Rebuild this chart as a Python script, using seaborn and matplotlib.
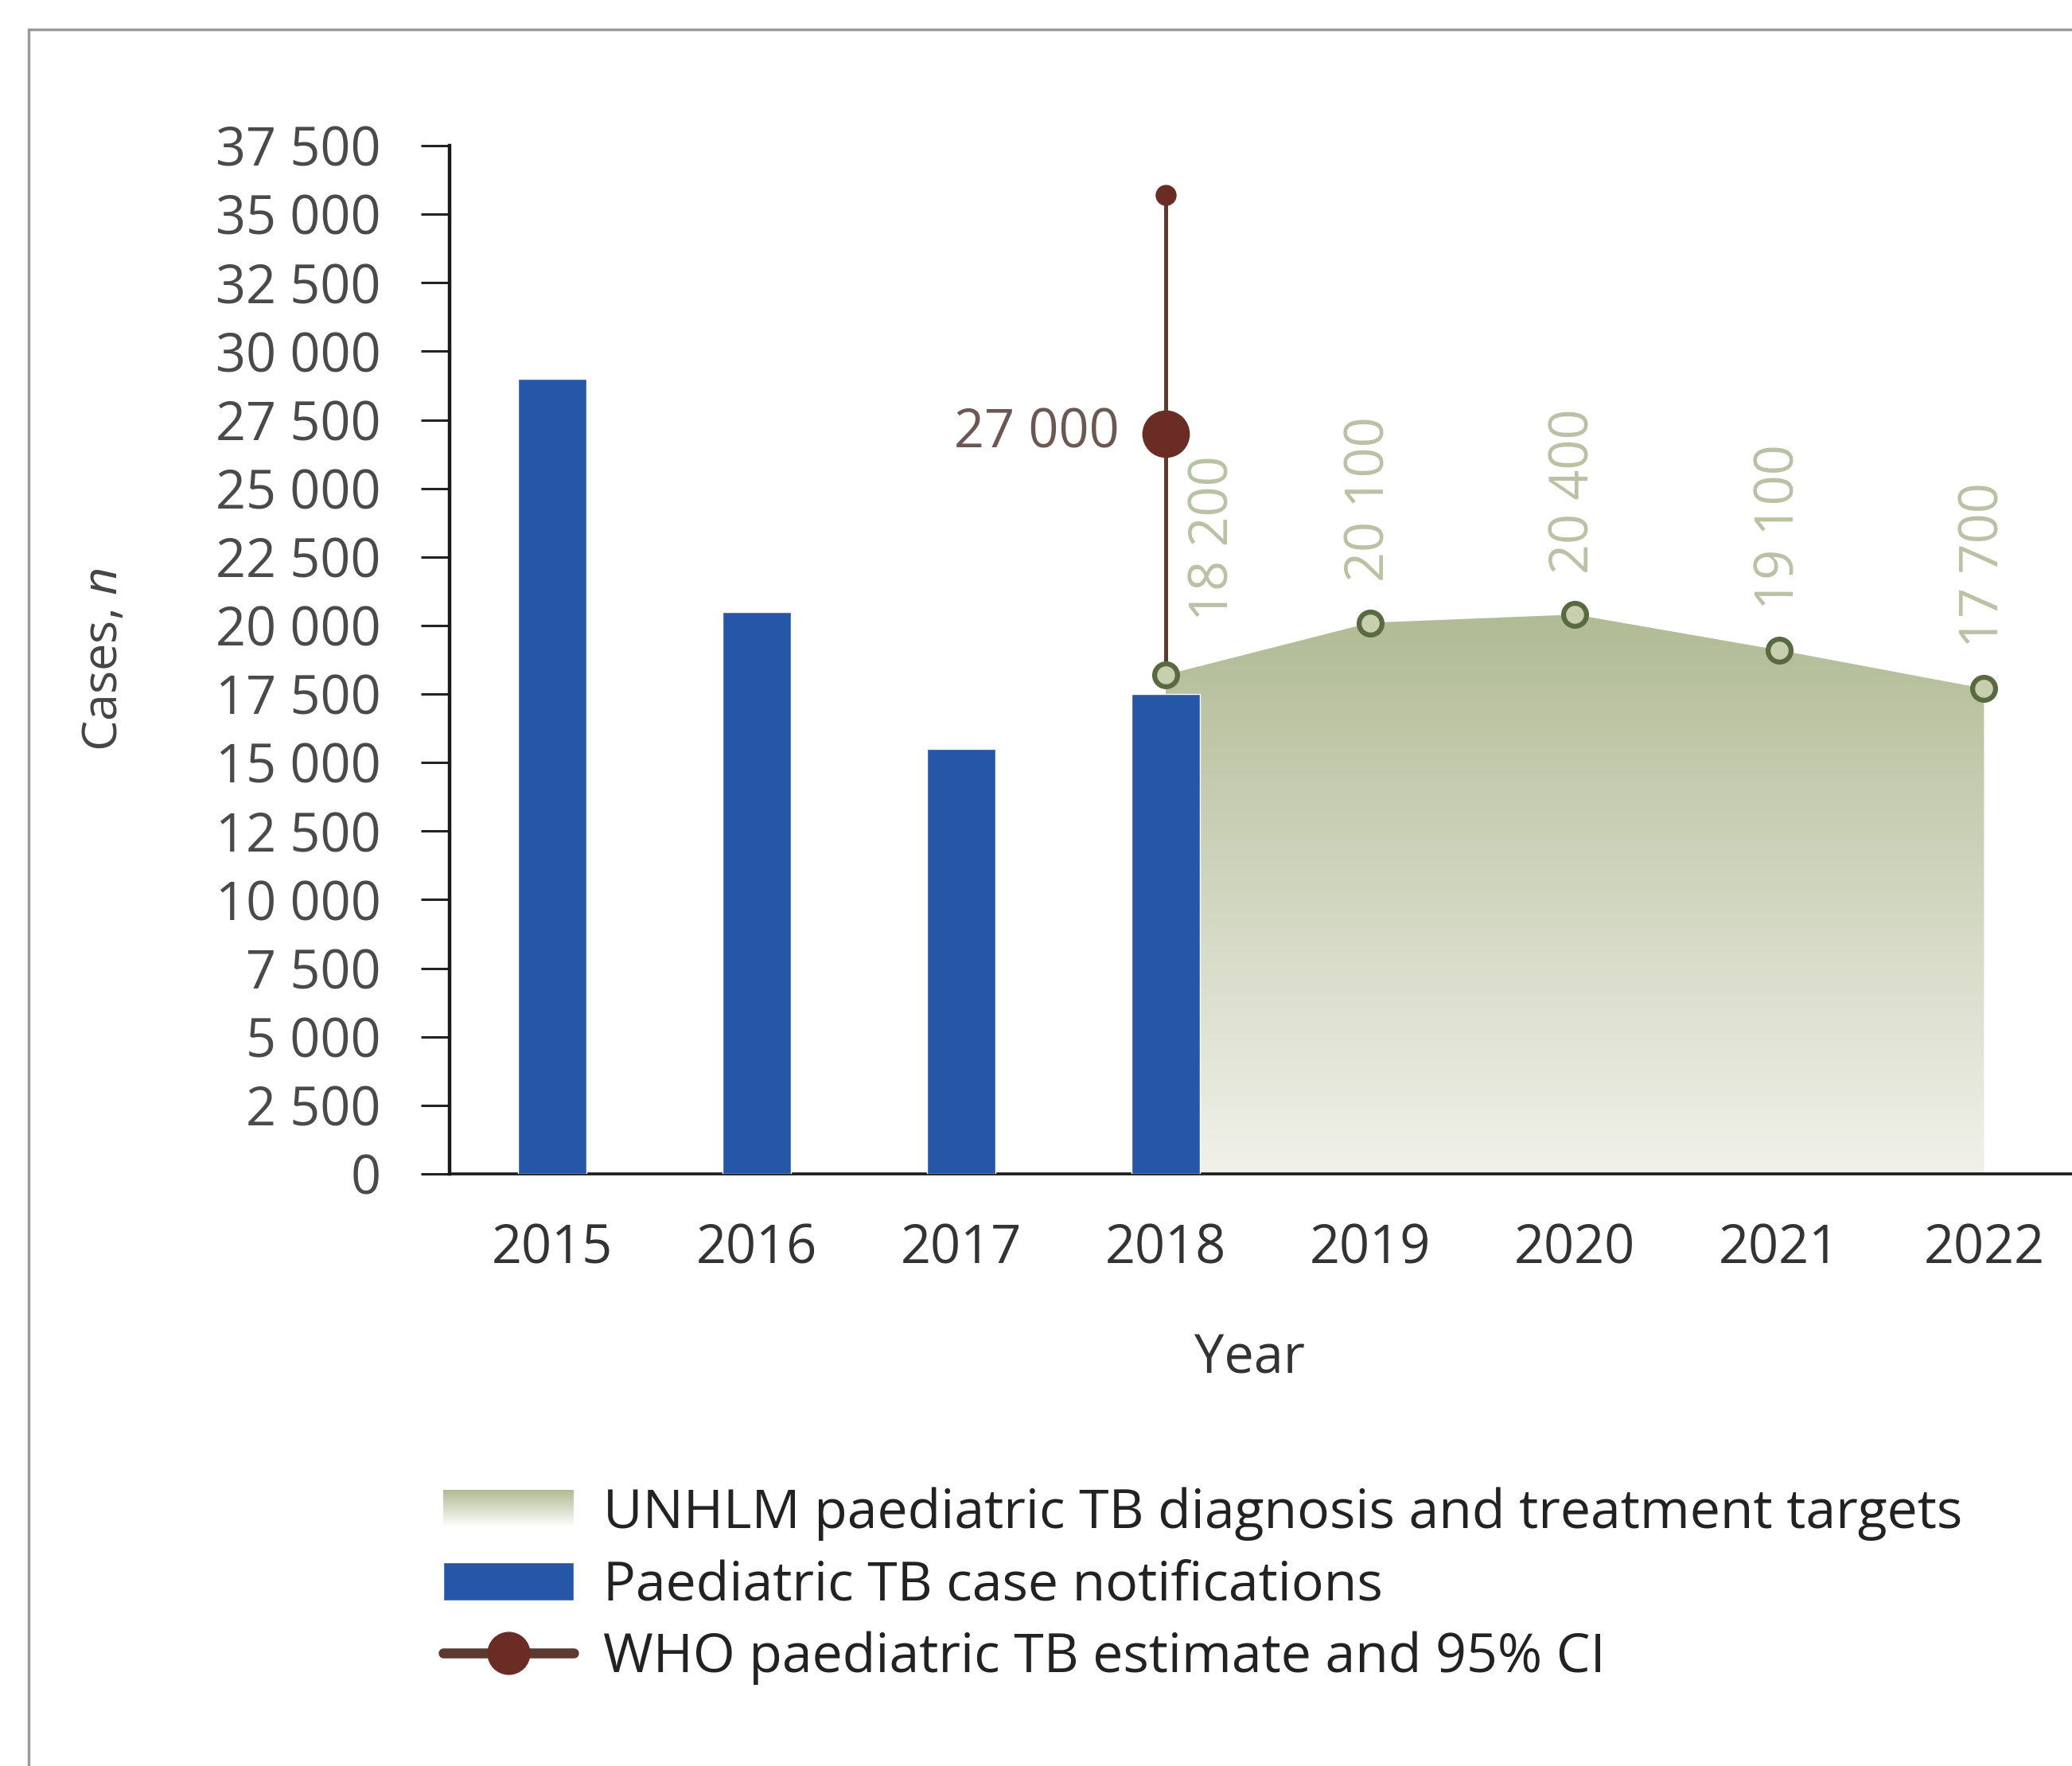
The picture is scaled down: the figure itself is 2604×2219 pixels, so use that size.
import numpy as np
import matplotlib
matplotlib.use("Agg")
import matplotlib.pyplot as plt
import seaborn as sns
from matplotlib.patches import Rectangle, Patch
from matplotlib.lines import Line2D
from matplotlib.legend_handler import HandlerBase
from matplotlib.colors import LinearSegmentedColormap, to_rgb

# data
years = [2015, 2016, 2017, 2018, 2019, 2020, 2021, 2022]
notif_years = [2015, 2016, 2017, 2018]
notifications = [29000, 20500, 15500, 17500]
target_years = [2018, 2019, 2020, 2021, 2022]
targets = [18200, 20100, 20400, 19100, 17700]
target_labels = ["18 200", "20 100", "20 400", "19 100", "17 700"]
who_year = 2018
who_est = 27000
who_lo = 18200
who_hi = 35700
yticks = list(range(0, 37501, 2500))

BLUE = "#2556a8"
BROWN = "#6b2c25"
BROWN_LINE = "#5c3a30"
GREEN_TOP = "#b1bb95"
GREEN_BOT = "#f1f1ea"
LABEL_GREEN = "#b9c2a3"

sns.set_style("white")
plt.rcParams["font.family"] = ["Open Sans", "DejaVu Sans"]
plt.rcParams["mathtext.fontset"] = "custom"
plt.rcParams["mathtext.it"] = "Open Sans:italic"
plt.rcParams["mathtext.rm"] = "Open Sans"

fig = plt.figure(figsize=(26.04, 22.19), dpi=100)
ax = fig.add_axes([0.217, 0.3353, 0.783, 0.5822])

# gradient fill for the targets
poly = ax.fill_between(target_years, targets, 0, color="none", lw=0)
cmap = LinearSegmentedColormap.from_list("tgt", [GREEN_BOT, GREEN_TOP])
grad = np.linspace(0, 1, 256).reshape(-1, 1)
im = ax.imshow(grad, extent=[min(target_years), max(target_years), 0, max(targets)],
               origin="lower", aspect="auto", cmap=cmap, zorder=1)
im.set_clip_path(poly.get_paths()[0], transform=ax.transData)

# notifications bars
sns.barplot(x=notif_years, y=notifications, native_scale=True, width=0.335,
            color=BLUE, saturation=1, errorbar=None, ax=ax, zorder=3)

# WHO estimate with CI
ax.plot([who_year, who_year], [who_lo, who_hi], color=BROWN_LINE, lw=3.6, zorder=4)
ax.plot([who_year], [who_hi], "o", color=BROWN, ms=18, zorder=5)
ax.plot([who_year], [who_est], "o", color=BROWN, ms=42, zorder=5)
ax.annotate("27 000", (who_year, who_est), xytext=(-42, 0), textcoords="offset points",
            ha="right", va="center", fontsize=48, color="#6b5852")

# target markers and labels
sns.scatterplot(x=target_years, y=targets, s=430, color="#c8cfae", edgecolor="#5a6a40",
                linewidth=4.5, ax=ax, zorder=6)
for i, (yr, val, lab) in enumerate(zip(target_years, targets, target_labels)):
    dx, dy = (44, 49) if i == 0 else (0, 37)
    ax.annotate(lab, (yr, val), xytext=(dx, dy), textcoords="offset points",
                rotation=90, ha="center", va="bottom", fontsize=48, color=LABEL_GREEN)

ax.set_xlim(2014.5, 2022.43)
ax.set_ylim(0, 37500)
ax.set_xticks(years)
ax.set_xticklabels([str(y) for y in years], fontsize=48, color="#333333")
ax.set_yticks(yticks)
ax.set_yticklabels([f"{v:,}".replace(",", " ") for v in yticks], fontsize=48, color="#4a4a4a")
ax.tick_params(axis="x", length=0, pad=44)
ax.tick_params(axis="y", length=26, width=2.2, color="#222222", pad=36, left=True)

for s in ["top", "right"]:
    ax.spines[s].set_visible(False)
ax.spines["left"].set_color("#1a1a1a")
ax.spines["left"].set_linewidth(3.2)
ax.spines["bottom"].set_color("#1a1a1a")
ax.spines["bottom"].set_linewidth(2.6)

ax.set_xlabel("Year", fontsize=48, color="#333333")
ax.xaxis.set_label_coords(0.493, -0.154)
ax.set_ylabel("Cases, $n$", fontsize=44, color="#444444")
ax.yaxis.set_label_coords(-0.198, 0.5)


class GradientHandler(HandlerBase):
    def create_artists(self, legend, orig_handle, xdescent, ydescent, width, height, fontsize, trans):
        n = 24
        c0 = np.array(to_rgb("#ffffff"))
        c1 = np.array(to_rgb(GREEN_TOP))
        arts = []
        for k in range(n):
            f = k / (n - 1)
            col = c0 + (c1 - c0) * f
            r = Rectangle((-xdescent, -ydescent + height * k / n), width, height / n + 0.5,
                          facecolor=col, edgecolor="none", transform=trans)
            arts.append(r)
        return arts


grad_handle = Patch(facecolor=GREEN_TOP)
handles = [grad_handle,
           Patch(facecolor=BLUE),
           Line2D([], [], color=BROWN_LINE, lw=9, marker="o", ms=38, markerfacecolor=BROWN,
                  markeredgecolor=BROWN)]
labels = ["UNHLM paediatric TB diagnosis and treatment targets",
          "Paediatric TB case notifications",
          "WHO paediatric TB estimate and 95% CI"]
fig.legend(handles, labels, loc="upper left", bbox_to_anchor=(0.214, 0.158),
           frameon=False, fontsize=49, handlelength=2.4, handleheight=0.7,
           handletextpad=0.55, labelspacing=0.34, borderaxespad=0, borderpad=0,
           handler_map={grad_handle: GradientHandler()}, labelcolor="#222222")

# outer frame
fig.patches.append(Rectangle((0.014, -0.05), 1.2, 0.9835 + 0.05, transform=fig.transFigure,
                             fill=False, edgecolor="#9a9a9a", lw=2.5))

fig.savefig("out.png", dpi=100)
